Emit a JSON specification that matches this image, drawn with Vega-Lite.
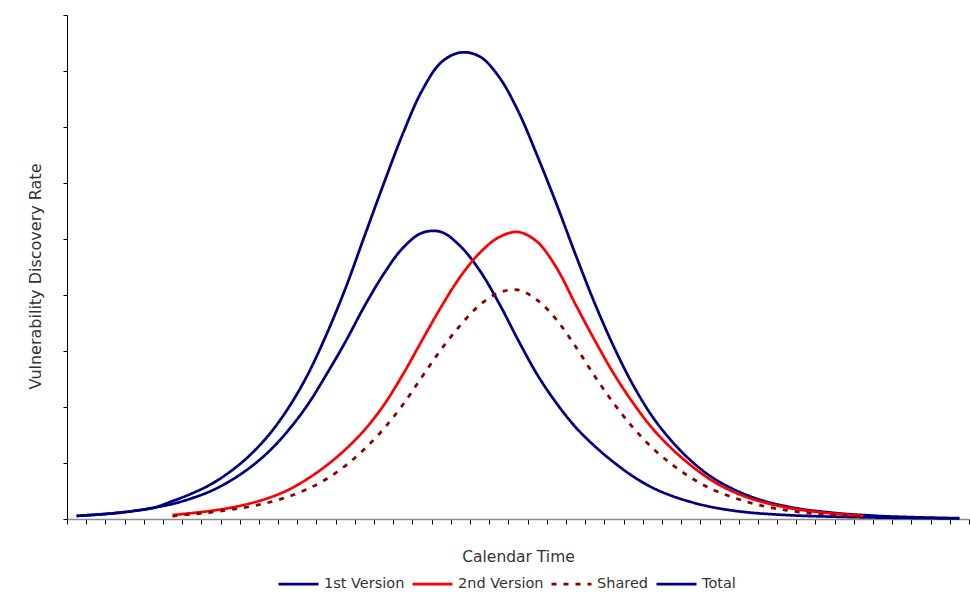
{
  "$schema": "https://vega.github.io/schema/vega-lite/v6.json",
  "width": 902,
  "height": 504,
  "autosize": {"type": "none"},
  "padding": {"left": 67, "top": 15, "right": 1, "bottom": 75},
  "background": "white",
  "config": {
    "view": {"stroke": null},
    "font": "DejaVu Sans"
  },
  "data": {
    "values": [
      {"t": 0, "1st Version": 0.55, "Total": 0.55},
      {"t": 1, "1st Version": 0.77, "Total": 0.77},
      {"t": 2, "1st Version": 1.05, "Total": 1.05},
      {"t": 3, "1st Version": 1.45, "Total": 1.45},
      {"t": 4, "1st Version": 2.0, "Total": 2.0},
      {"t": 5, "1st Version": 2.7, "2nd Version": 0.7, "Shared": 0.5, "Total": 3.2},
      {"t": 6, "1st Version": 3.7, "2nd Version": 1.05, "Shared": 0.85, "Total": 4.55},
      {"t": 7, "1st Version": 5.0, "2nd Version": 1.45, "Shared": 1.2, "Total": 6.2},
      {"t": 8, "1st Version": 6.8, "2nd Version": 2.0, "Shared": 1.65, "Total": 8.45},
      {"t": 9, "1st Version": 9.1, "2nd Version": 2.75, "Shared": 2.2, "Total": 11.3},
      {"t": 10, "1st Version": 12.0, "2nd Version": 3.75, "Shared": 2.95, "Total": 14.95},
      {"t": 11, "1st Version": 15.7, "2nd Version": 5.15, "Shared": 3.95, "Total": 19.65},
      {"t": 12, "1st Version": 20.2, "2nd Version": 7.1, "Shared": 5.3, "Total": 25.5},
      {"t": 13, "1st Version": 25.7, "2nd Version": 9.5, "Shared": 7.1, "Total": 32.8},
      {"t": 14, "1st Version": 31.6, "2nd Version": 12.4, "Shared": 9.5, "Total": 41.1},
      {"t": 15, "1st Version": 38.0, "2nd Version": 15.9, "Shared": 12.5, "Total": 50.5},
      {"t": 16, "1st Version": 43.75, "2nd Version": 20.3, "Shared": 16.1, "Total": 59.85},
      {"t": 17, "1st Version": 48.4, "2nd Version": 25.8, "Shared": 20.4, "Total": 68.8},
      {"t": 18, "1st Version": 51.1, "2nd Version": 31.9, "Shared": 25.4, "Total": 76.5},
      {"t": 19, "1st Version": 51.25, "2nd Version": 37.9, "Shared": 30.3, "Total": 81.55},
      {"t": 20, "1st Version": 48.7, "2nd Version": 43.3, "Shared": 34.6, "Total": 83.3},
      {"t": 21, "1st Version": 44.4, "2nd Version": 47.5, "Shared": 38.2, "Total": 82.6},
      {"t": 22, "1st Version": 38.6, "2nd Version": 50.3, "Shared": 40.4, "Total": 79.0},
      {"t": 23, "1st Version": 32.0, "2nd Version": 51.25, "Shared": 40.9, "Total": 72.9},
      {"t": 24, "1st Version": 25.8, "2nd Version": 49.5, "Shared": 39.1, "Total": 64.9},
      {"t": 25, "1st Version": 20.7, "2nd Version": 44.9, "Shared": 35.6, "Total": 56.3},
      {"t": 26, "1st Version": 16.4, "2nd Version": 38.3, "Shared": 30.8, "Total": 47.2},
      {"t": 27, "1st Version": 13.0, "2nd Version": 31.9, "Shared": 25.5, "Total": 38.5},
      {"t": 28, "1st Version": 10.1, "2nd Version": 25.9, "Shared": 20.6, "Total": 30.7},
      {"t": 29, "1st Version": 7.6, "2nd Version": 20.7, "Shared": 16.3, "Total": 23.9},
      {"t": 30, "1st Version": 5.6, "2nd Version": 16.2, "Shared": 12.7, "Total": 18.3},
      {"t": 31, "1st Version": 4.15, "2nd Version": 12.6, "Shared": 9.8, "Total": 13.95},
      {"t": 32, "1st Version": 3.05, "2nd Version": 9.6, "Shared": 7.4, "Total": 10.45},
      {"t": 33, "1st Version": 2.2, "2nd Version": 7.1, "Shared": 5.5, "Total": 7.7},
      {"t": 34, "1st Version": 1.6, "2nd Version": 5.2, "Shared": 4.1, "Total": 5.7},
      {"t": 35, "1st Version": 1.17, "2nd Version": 3.8, "Shared": 3.0, "Total": 4.17},
      {"t": 36, "1st Version": 0.9, "2nd Version": 2.8, "Shared": 2.15, "Total": 3.05},
      {"t": 37, "1st Version": 0.7, "2nd Version": 2.05, "Shared": 1.55, "Total": 2.25},
      {"t": 38, "1st Version": 0.55, "2nd Version": 1.5, "Shared": 1.1, "Total": 1.65},
      {"t": 39, "1st Version": 0.45, "2nd Version": 1.1, "Shared": 0.8, "Total": 1.25},
      {"t": 40, "1st Version": 0.37, "2nd Version": 0.8, "Shared": 0.55, "Total": 0.92},
      {"t": 41, "1st Version": 0.3, "2nd Version": 0.55, "Shared": 0.4, "Total": 0.7},
      {"t": 42, "1st Version": 0.25, "Total": 0.5},
      {"t": 43, "1st Version": 0.2, "Total": 0.38},
      {"t": 44, "1st Version": 0.16, "Total": 0.28},
      {"t": 45, "1st Version": 0.13, "Total": 0.2},
      {"t": 46, "1st Version": 0.1, "Total": 0.15}
    ]
  },
  "transform": [
    {"fold": ["1st Version", "2nd Version", "Shared", "Total"], "as": ["series", "v"]},
    {"filter": "isValid(datum.v)"}
  ],
  "mark": {"type": "line", "interpolate": "catmull-rom", "strokeWidth": 2.75},
  "encoding": {
    "x": {
      "field": "t",
      "type": "quantitative",
      "scale": {"domain": [-0.5, 46.5], "nice": false, "zero": false},
      "axis": {
        "title": "Calendar Time",
        "values": [-0.5, 0.5, 1.5, 2.5, 3.5, 4.5, 5.5, 6.5, 7.5, 8.5, 9.5, 10.5, 11.5, 12.5, 13.5, 14.5, 15.5, 16.5, 17.5, 18.5, 19.5, 20.5, 21.5, 22.5, 23.5, 24.5, 25.5, 26.5, 27.5, 28.5, 29.5, 30.5, 31.5, 32.5, 33.5, 34.5, 35.5, 36.5, 37.5, 38.5, 39.5, 40.5, 41.5, 42.5, 43.5, 44.5, 45.5, 46.5],
        "labels": false,
        "grid": false,
        "domainColor": "#8c8c8c",
        "domainWidth": 1.5,
        "tickColor": "#000000",
        "tickSize": 5,
        "tickWidth": 1,
        "titleFont": "DejaVu Sans",
        "titleFontSize": 15.5,
        "titleFontWeight": "normal",
        "titleColor": "#333333",
        "titlePadding": 25
      }
    },
    "y": {
      "field": "v",
      "type": "quantitative",
      "scale": {"domain": [0, 90], "nice": false},
      "axis": {
        "title": "Vulnerability Discovery Rate",
        "values": [0, 10, 20, 30, 40, 50, 60, 70, 80, 90],
        "labels": false,
        "grid": false,
        "domainColor": "#000000",
        "domainWidth": 1,
        "tickColor": "#000000",
        "tickSize": 4,
        "tickWidth": 1,
        "titleFont": "DejaVu Sans",
        "titleFontSize": 16,
        "titleFontWeight": "normal",
        "titleColor": "#333333",
        "titlePadding": 19,
        "titleY": 261
      }
    },
    "color": {
      "field": "series",
      "type": "nominal",
      "scale": {
        "domain": ["1st Version", "2nd Version", "Shared", "Total"],
        "range": ["#000080", "#ff0000", "#8b0000", "#000080"]
      },
      "legend": {
        "title": null,
        "orient": "none",
        "direction": "horizontal",
        "legendX": 210,
        "legendY": 547.5,
        "symbolType": "stroke",
        "symbolSize": 1600,
        "symbolStrokeWidth": 2.75,
        "labelFont": "DejaVu Sans",
        "labelFontSize": 14.5,
        "labelColor": "#333333",
        "labelOffset": 4,
        "columnPadding": 2
      }
    },
    "strokeDash": {
      "field": "series",
      "type": "nominal",
      "scale": {
        "domain": ["1st Version", "2nd Version", "Shared", "Total"],
        "range": [[1, 0], [1, 0], [5, 7], [1, 0]]
      },
      "legend": null
    }
  }
}
